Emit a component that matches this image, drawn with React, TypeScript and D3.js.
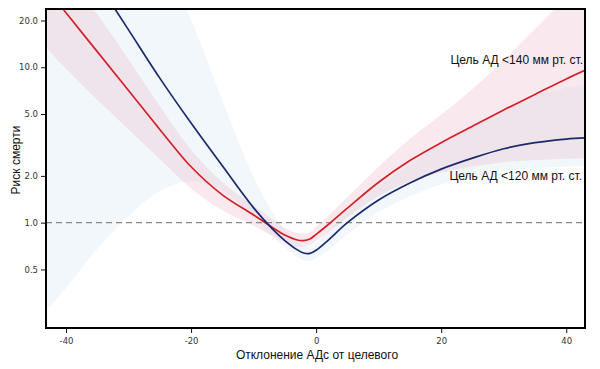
import React, { useRef, useEffect } from "react";
import * as d3 from "d3";

// deviation of SBP from target (x), shared by both series
const deviation = [-43, -40, -35, -30, -25, -20, -15, -10, -7, -5, -3, -2, -1, 0, 2, 5, 10, 15, 20, 25, 30, 35, 40, 43];

// target <140
const risk140 = [31.6, 22.4, 12.6, 7.08, 3.98, 2.29, 1.51, 1.12, 0.933, 0.832, 0.773, 0.767, 0.785, 0.841, 0.977, 1.24, 1.82, 2.51, 3.27, 4.17, 5.31, 6.68, 8.41, 9.55];
const low140 = [13.2, 9.77, 6.17, 3.98, 2.57, 1.66, 1.2, 0.955, 0.822, 0.746, 0.701, 0.7, 0.716, 0.762, 0.871, 1.08, 1.48, 1.84, 2.1, 2.3, 2.45, 2.53, 2.58, 2.6];
const high140 = [57.5, 39.8, 21.9, 11.2, 5.62, 2.95, 1.82, 1.29, 1.05, 0.923, 0.857, 0.851, 0.871, 0.944, 1.11, 1.46, 2.29, 3.47, 4.95, 7.24, 11.1, 17.6, 27.9, 35.5];

// target <120
const risk120 = [112, 72.4, 35.5, 17.4, 8.51, 4.37, 2.32, 1.245, 0.912, 0.767, 0.668, 0.638, 0.634, 0.664, 0.776, 1.0, 1.4, 1.8, 2.21, 2.6, 2.99, 3.27, 3.45, 3.51];
const low120 = [0.275, 0.38, 0.68, 1.1, 1.6, 1.85, 1.62, 1.07, 0.813, 0.692, 0.603, 0.575, 0.569, 0.589, 0.668, 0.841, 1.17, 1.48, 1.76, 1.97, 2.14, 2.24, 2.29, 2.32];
const high120 = [891, 550, 251, 115, 51.3, 20.0, 6.1, 1.97, 1.17, 0.902, 0.75, 0.708, 0.703, 0.745, 0.891, 1.19, 1.72, 2.37, 3.2, 4.12, 5.31, 6.53, 7.38, 7.76];

const xTicks = [-40, -20, 0, 20, 40];
const yTicks = [0.5, 1, 2, 5, 10, 20];
const yTickLabels = ["0.5", "1.0", "2.0", "5.0", "10.0", "20.0"];

const label140 = "Цель АД <140 мм рт. ст.";
const label120 = "Цель АД <120 мм рт. ст.";

const W = 600, H = 369;
const L = 46, R = 585, T = 9, B = 328;

export default function App() {
  const xAxisRef = useRef<SVGGElement>(null);
  const yAxisRef = useRef<SVGGElement>(null);

  const x = d3.scaleLinear().domain([-43.2, 43]).range([L, R]);
  const y = d3.scaleLog().domain([0.21, 23.7]).range([B, T]);

  const band = (lo: number[], hi: number[]) =>
    d3.area<number>()
      .x((d) => x(d))
      .y0((d, i) => y(lo[i]))
      .y1((d, i) => y(hi[i]))
      .curve(d3.curveCatmullRom.alpha(0.5))(deviation) || "";

  const curve = (vals: number[]) =>
    d3.line<number>()
      .x((d) => x(d))
      .y((d, i) => y(vals[i]))
      .curve(d3.curveCatmullRom.alpha(0.5))(deviation) || "";

  useEffect(() => {
    const xAxis = d3.axisBottom(x).tickValues(xTicks).tickSize(4).tickFormat((d) => String(d));
    const gx = d3.select(xAxisRef.current).call(xAxis);
    gx.select(".domain").remove();
    gx.selectAll("text").attr("font-family", "DejaVu Sans, sans-serif").attr("font-size", 8.5).attr("fill", "#333").attr("dy", "0.9em");
    gx.selectAll("line").attr("stroke", "#111");

    const yAxis = d3.axisLeft(y).tickValues(yTicks).tickSize(4)
      .tickFormat((d, i) => yTickLabels[i]);
    const gy = d3.select(yAxisRef.current).call(yAxis);
    gy.select(".domain").remove();
    gy.selectAll("text").attr("font-family", "DejaVu Sans, sans-serif").attr("font-size", 8.5).attr("fill", "#333");
    gy.selectAll("line").attr("stroke", "#111");
  }, []);

  return (
    <svg width={W} height={H} style={{ position: "absolute", left: 0, top: 0, background: "#fff" }}>
      <defs>
        <clipPath id="plotClip">
          <rect x={L} y={T} width={R - L} height={B - T} />
        </clipPath>
      </defs>
      <g clipPath="url(#plotClip)">
        <path d={band(low120, high120)} fill="#b9d5ef" fillOpacity={0.18} />
        <path d={band(low140, high140)} fill="#e6a9bd" fillOpacity={0.26} />
        <line x1={L} x2={R} y1={y(1)} y2={y(1)} stroke="#8a8a8a" strokeWidth={1.2} strokeDasharray="6,4" />
        <path d={curve(risk140)} fill="none" stroke="#d42027" strokeWidth={1.7} />
        <path d={curve(risk120)} fill="none" stroke="#1b2a6b" strokeWidth={1.7} />
      </g>
      <rect x={L} y={T} width={R - L} height={B - T} fill="none" stroke="#000" strokeWidth={2} />
      <g ref={xAxisRef} transform={`translate(0,${B + 1})`} />
      <g ref={yAxisRef} transform={`translate(${L - 1},0)`} />
      <text x={583} y={64} textAnchor="end" fontFamily="Liberation Sans, Arial, sans-serif" fontSize={12} fill="#111">{label140}</text>
      <text x={582} y={180} textAnchor="end" fontFamily="Liberation Sans, Arial, sans-serif" fontSize={12} fill="#111">{label120}</text>
      <text x={317} y={359} textAnchor="middle" fontFamily="Liberation Sans, Arial, sans-serif" fontSize={12} fill="#111">Отклонение АДс от целевого</text>
      <text transform={`translate(20,160) rotate(-90)`} textAnchor="middle" fontFamily="Liberation Sans, Arial, sans-serif" fontSize={12} fill="#111">Риск смерти</text>
    </svg>
  );
}
